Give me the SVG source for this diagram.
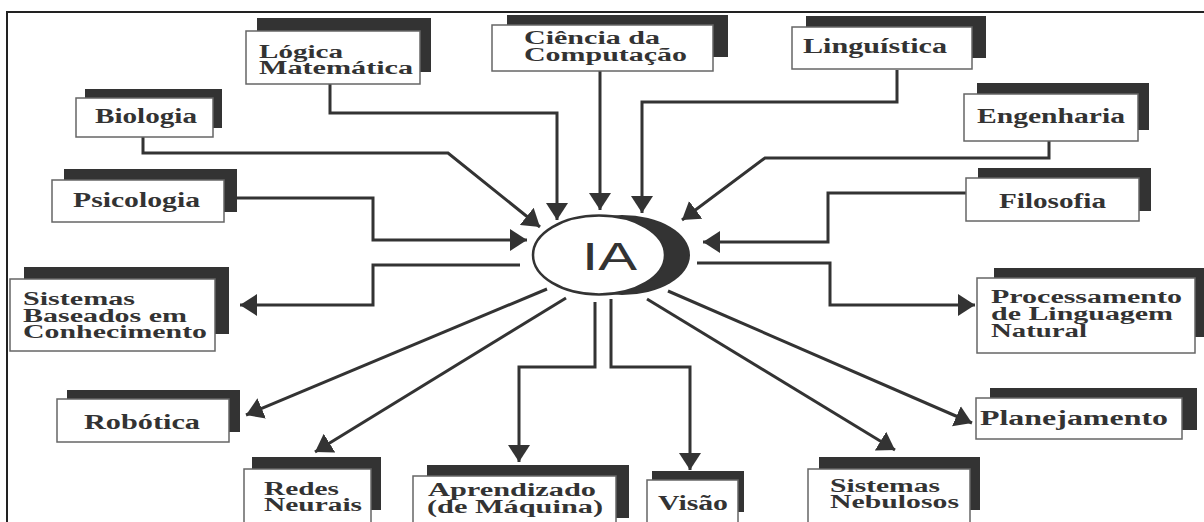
<svg xmlns="http://www.w3.org/2000/svg" width="1204" height="522" viewBox="0 0 1204 522">
<style>
.sh{fill:#333;}
.bx{fill:#fff;stroke:#666;stroke-width:1.5;}
.t{font-family:"Liberation Serif","Times New Roman",serif;font-weight:bold;font-size:20px;fill:#333;}
.m{font-size:18px;}
.c{fill:none;stroke:#333;stroke-width:3;}
.ca{fill:none;stroke:#333;stroke-width:3;marker-end:url(#ah);}
</style>
<defs>
<marker id="ah" markerUnits="userSpaceOnUse" markerWidth="18" markerHeight="22" refX="17" refY="11" orient="auto" viewBox="0 0 18 22">
<path d="M0,0 L17,11 L0,22 z" fill="#333"/>
</marker>
</defs>
<rect width="1204" height="522" fill="#fff"/>
<path d="M7,522 V12 H1204" fill="none" stroke="#222" stroke-width="2"/>

<g id="connectors">
<path class="ca" d="M330,84 V113 H557 V220"/>
<path class="ca" d="M143,137 V153 H448 L540,227"/>
<path class="ca" d="M237,198 H373 V240 H527"/>
<path class="ca" d="M600,71 V210"/>
<path class="ca" d="M897,70 V102 H642 V213"/>
<path class="ca" d="M1049,141 V158 H765 L682,220"/>
<path class="ca" d="M966,193 H828 V242 H703"/>
<path class="ca" d="M520,265 H373 V305 H240"/>
<path class="ca" d="M547,289 L246,415"/>
<path class="ca" d="M566,298 L315,452"/>
<path class="ca" d="M595,302 V367 H519 V462"/>
<path class="ca" d="M611,299 V367 H690 V470"/>
<path class="ca" d="M647,299 L895,450"/>
<path class="ca" d="M668,291 L972,423"/>
<path class="ca" d="M697,263 H830 V305 H975"/>
</g>

<g id="ia">
<ellipse cx="622" cy="255" rx="68" ry="40" fill="#333"/>
<ellipse cx="599" cy="255" rx="66" ry="39.5" fill="#fff" stroke="#333" stroke-width="2.5"/>
<text x="582" y="270" font-family="Liberation Sans, Arial, sans-serif" font-size="39" fill="#333" textLength="55" lengthAdjust="spacingAndGlyphs">IA</text>
</g>

<g id="logica">
<rect class="sh" x="257" y="18" width="174" height="54"/>
<rect class="bx" x="246" y="31" width="174" height="53"/>
<text class="t m" x="259" y="58" textLength="84" lengthAdjust="spacingAndGlyphs">Lógica</text>
<text class="t m" x="259" y="74" textLength="154" lengthAdjust="spacingAndGlyphs">Matemática</text>
</g>
<g id="ciencia">
<rect class="sh" x="507" y="15" width="221" height="42"/>
<rect class="bx" x="492" y="25" width="221" height="46"/>
<text class="t m" x="524" y="44" textLength="136" lengthAdjust="spacingAndGlyphs">Ciência da</text>
<text class="t m" x="524" y="61" textLength="163" lengthAdjust="spacingAndGlyphs">Computação</text>
</g>
<g id="linguistica">
<rect class="sh" x="806" y="16" width="180" height="42"/>
<rect class="bx" x="792" y="27" width="180" height="42"/>
<text class="t" x="803" y="53" textLength="144" lengthAdjust="spacingAndGlyphs">Linguística</text>
</g>
<g id="biologia">
<rect class="sh" x="85" y="89" width="137" height="39"/>
<rect class="bx" x="76" y="98" width="137" height="39"/>
<text class="t" x="95" y="123" textLength="102" lengthAdjust="spacingAndGlyphs">Biologia</text>
</g>
<g id="engenharia">
<rect class="sh" x="977" y="83" width="172" height="47"/>
<rect class="bx" x="964" y="94" width="174" height="47"/>
<text class="t" x="977" y="123" textLength="148" lengthAdjust="spacingAndGlyphs">Engenharia</text>
</g>
<g id="psicologia">
<rect class="sh" x="64" y="169" width="173" height="43"/>
<rect class="bx" x="52" y="180" width="172" height="42"/>
<text class="t" x="73" y="207" textLength="127" lengthAdjust="spacingAndGlyphs">Psicologia</text>
</g>
<g id="filosofia">
<rect class="sh" x="978" y="168" width="173" height="43"/>
<rect class="bx" x="966" y="178" width="173" height="43"/>
<text class="t" x="999" y="208" textLength="107" lengthAdjust="spacingAndGlyphs">Filosofia</text>
</g>
<g id="sbc">
<rect class="sh" x="24" y="267" width="205" height="67"/>
<rect class="bx" x="10" y="279" width="205" height="72"/>
<text class="t m" x="23" y="305" textLength="112" lengthAdjust="spacingAndGlyphs">Sistemas</text>
<text class="t m" x="23" y="322" textLength="164" lengthAdjust="spacingAndGlyphs">Baseados em</text>
<text class="t m" x="23" y="338" textLength="184" lengthAdjust="spacingAndGlyphs">Conhecimento</text>
</g>
<g id="pln">
<rect class="sh" x="994" y="268" width="216" height="69"/>
<rect class="bx" x="977" y="278" width="218" height="75"/>
<text class="t m" x="991" y="303" textLength="191" lengthAdjust="spacingAndGlyphs">Processamento</text>
<text class="t m" x="991" y="320" textLength="182" lengthAdjust="spacingAndGlyphs">de Linguagem</text>
<text class="t m" x="991" y="337" textLength="96" lengthAdjust="spacingAndGlyphs">Natural</text>
</g>
<g id="robotica">
<rect class="sh" x="67" y="390" width="173" height="42"/>
<rect class="bx" x="57" y="399" width="172" height="43"/>
<text class="t" x="84" y="429" textLength="116" lengthAdjust="spacingAndGlyphs">Robótica</text>
</g>
<g id="planejamento">
<rect class="sh" x="990" y="388" width="207" height="42"/>
<rect class="bx" x="976" y="398" width="206" height="41"/>
<text class="t" x="980" y="425" textLength="188" lengthAdjust="spacingAndGlyphs">Planejamento</text>
</g>
<g id="redes">
<rect class="sh" x="252" y="457" width="129" height="53"/>
<rect class="bx" x="244" y="469" width="127" height="62"/>
<text class="t m" x="264" y="495" textLength="75" lengthAdjust="spacingAndGlyphs">Redes</text>
<text class="t m" x="264" y="511" textLength="98" lengthAdjust="spacingAndGlyphs">Neurais</text>
</g>
<g id="aprendizado">
<rect class="sh" x="427" y="465" width="202" height="53"/>
<rect class="bx" x="413" y="476" width="203" height="55"/>
<text class="t m" x="428" y="496" textLength="168" lengthAdjust="spacingAndGlyphs">Aprendizado</text>
<text class="t m" x="427" y="513" textLength="176" lengthAdjust="spacingAndGlyphs">(de Máquina)</text>
</g>
<g id="visao">
<rect class="sh" x="652" y="471" width="92" height="41"/>
<rect class="bx" x="647" y="480" width="91" height="51"/>
<text class="t" x="658" y="510" textLength="70" lengthAdjust="spacingAndGlyphs">Visão</text>
</g>
<g id="nebulosos">
<rect class="sh" x="819" y="457" width="161" height="53"/>
<rect class="bx" x="808" y="469" width="162" height="62"/>
<text class="t m" x="830" y="492" textLength="110" lengthAdjust="spacingAndGlyphs">Sistemas</text>
<text class="t m" x="830" y="508" textLength="129" lengthAdjust="spacingAndGlyphs">Nebulosos</text>
</g>
</svg>
